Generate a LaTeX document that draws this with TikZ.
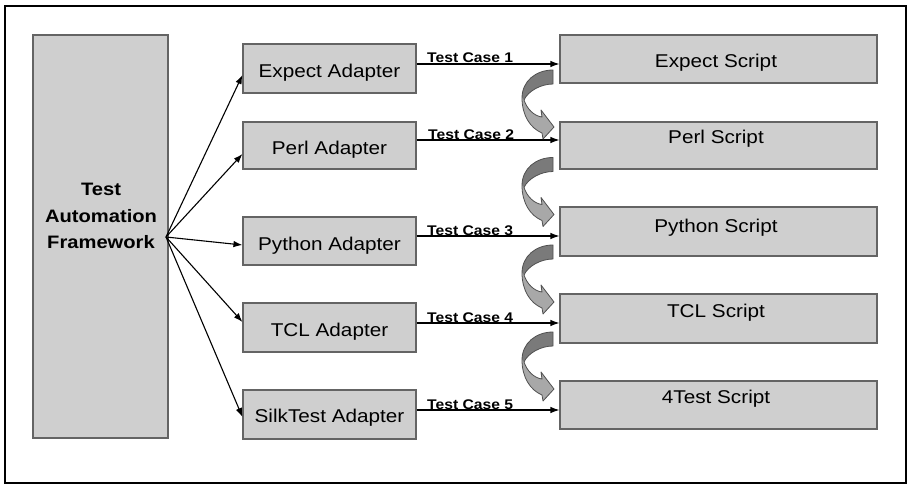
\documentclass[tikz,border=0pt]{standalone}
\usepackage{fontspec}
\setmainfont{Liberation Sans}[FakeStretch=1.12]
\usetikzlibrary{arrows.meta,calc}

\definecolor{boxfill}{RGB}{207,207,207}
\definecolor{boxline}{RGB}{100,100,100}
\definecolor{bandback}{RGB}{122,122,122}
\definecolor{bandfront}{RGB}{168,168,168}
\definecolor{bandline}{RGB}{80,80,80}

\tikzset{
  panel/.style={draw=boxline, line width=1.1pt, fill=boxfill, inner sep=0pt},
  lbl/.style={font=\fontsize{18.5}{20}\selectfont, anchor=base, inner sep=0pt},
  tclbl/.style={font=\fontsize{14}{16}\selectfont\bfseries, anchor=base west, inner sep=0pt},
  feed/.style={draw=black, line width=1.1pt, -{Latex[length=9pt,width=6.5pt]}},
  turn/.pic={
    % front of the twisted band, ending in the head
    \fill[bandfront] (-31,27) .. controls (-31,44) and (-23,57) .. (-11,62)
      -- (-10,68) -- (1,56) -- (-12,39) -- (-11,46)
      .. controls (-19,45) and (-26,38) .. (-29,29) -- cycle;
    % back of the band, seen from behind at the top
    \fill[bandback] (0,-1) .. controls (-17,-1) and (-31,10) .. (-31,27)
      -- (-29,29) .. controls (-25,20) and (-12,13) .. (0,13) -- cycle;
    % outline of the whole arrow
    \draw[bandline, line width=0.8pt, line join=round]
      (0,-1) .. controls (-17,-1) and (-31,10) .. (-31,27)
      .. controls (-31,44) and (-23,57) .. (-11,62)
      -- (-10,68) -- (1,56) -- (-12,39) -- (-11,46)
      .. controls (-19,45) and (-26,38) .. (-29,29)
      .. controls (-25,20) and (-12,13) .. (0,13) -- cycle;
  }
}

\begin{document}
\begin{tikzpicture}[x=1pt, y=-1pt]
\useasboundingbox (0,0) rectangle (909,487);

% outer frame
\draw[line width=2.5pt] (5,6) rectangle (906,483);

% framework block
\node[panel, minimum width=135pt, minimum height=403pt] (fw) at (100.5,236.5) {};
\node[font=\fontsize{18}{20}\selectfont\bfseries, anchor=base] (fw1) at (101,195) {Test};
\node[font=\fontsize{18}{20}\selectfont\bfseries, anchor=base] (fw2) at (101,222) {Automation};
\node[font=\fontsize{18}{20}\selectfont\bfseries, anchor=base] (fw3) at (101,248) {Framework};
\coordinate (hub) at (166,237);

% adapters
\node[panel, minimum width=173pt, minimum height=49pt] (aexp) at (329.5,68.5) {};
\node[panel, minimum width=173pt, minimum height=47pt] (aperl) at (329.5,145.5) {};
\node[panel, minimum width=173pt, minimum height=48pt] (apy) at (329.5,241) {};
\node[panel, minimum width=173pt, minimum height=49pt] (atcl) at (329.5,327.5) {};
\node[panel, minimum width=173pt, minimum height=49pt] (asilk) at (329.5,414.5) {};
\node[lbl] (taexp) at (329.5,77) {Expect Adapter};
\node[lbl] (taperl) at (329.5,154) {Perl Adapter};
\node[lbl] (tapy) at (329.5,250) {Python Adapter};
\node[lbl] (tatcl) at (329.5,336) {TCL Adapter};
\node[lbl] (tasilk) at (329.5,422.5) {SilkTest Adapter};

% scripts
\node[panel, minimum width=317pt, minimum height=48pt] (sexp) at (718.5,59) {};
\node[panel, minimum width=317pt, minimum height=47pt] (sperl) at (718.5,145.5) {};
\node[panel, minimum width=317pt, minimum height=49pt] (spy) at (718.5,231.5) {};
\node[panel, minimum width=317pt, minimum height=49pt] (stcl) at (718.5,318.5) {};
\node[panel, minimum width=317pt, minimum height=48pt] (s4t) at (718.5,405) {};
\node[lbl] (tsexp) at (716,67) {Expect Script};
\node[lbl] (tsperl) at (716,143) {Perl Script};
\node[lbl] (tspy) at (716,232) {Python Script};
\node[lbl] (tstcl) at (716,317) {TCL Script};
\node[lbl] (ts4t) at (716,403) {4Test Script};

% framework to adapters
\draw[feed] (hub) -- ([yshift=-6.5pt]aexp.west);
\draw[feed] (hub) -- ([yshift=-8.5pt]aperl.west);
\draw[feed] (hub) -- ([yshift=-4pt]apy.west);
\draw[feed] (hub) -- ([yshift=5.5pt]atcl.west);
\draw[feed] (hub) -- ([yshift=-2.5pt]asilk.west);

% adapters to scripts
\draw[feed] (aexp.east |- 0,64) -- (sexp.west |- 0,64);
\draw[feed] (aperl.east |- 0,140) -- (sperl.west |- 0,140);
\draw[feed] (apy.east |- 0,236) -- (spy.west |- 0,236);
\draw[feed] (atcl.east |- 0,323) -- (stcl.west |- 0,323);
\draw[feed] (asilk.east |- 0,410) -- (s4t.west |- 0,410);
\node[tclbl] (tc1) at (427,63) {Test Case 1};
\node[tclbl] (tc2) at (428,139) {Test Case 2};
\node[tclbl] (tc3) at (427,235) {Test Case 3};
\node[tclbl] (tc4) at (427,322) {Test Case 4};
\node[tclbl] (tc5) at (427,409) {Test Case 5};

% bent hand-over arrows between scripts
\pic at (553,71) {turn};
\pic at (553,158.5) {turn};
\pic at (553,246) {turn};
\pic at (553,333) {turn};
\end{tikzpicture}
\end{document}
